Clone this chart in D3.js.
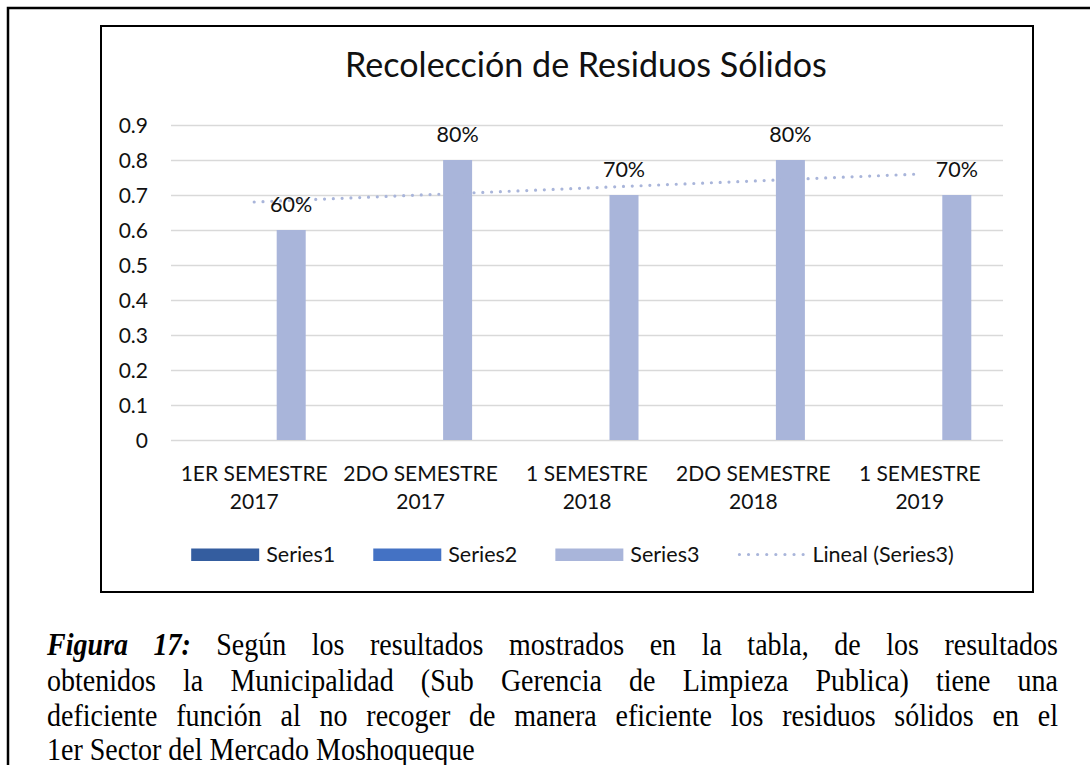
<!DOCTYPE html>
<html><head><meta charset="utf-8">
<script src="https://cdn.jsdelivr.net/npm/d3@7"></script>
<style>body{margin:0;background:#fff}svg{display:block}</style>
</head><body>
<svg id="c" width="1090" height="765"></svg>
<script>
// ---------- data ----------
const categories = ["1ER SEMESTRE 2017", "2DO SEMESTRE 2017", "1 SEMESTRE 2018", "2DO SEMESTRE 2018", "1 SEMESTRE 2019"];
const seriesNames = ["Series1", "Series2", "Series3"];
const series1 = [null, null, null, null, null];
const series2 = [null, null, null, null, null];
const series3 = [0.6, 0.8, 0.7, 0.8, 0.7];
const dataLabels = ["60%", "80%", "70%", "80%", "70%"];
const yTicks = [0, 0.1, 0.2, 0.3, 0.4, 0.5, 0.6, 0.7, 0.8, 0.9];
const yTickLabels = ["0", "0.1", "0.2", "0.3", "0.4", "0.5", "0.6", "0.7", "0.8", "0.9"];
const chartTitle = "Recolección de Residuos Sólidos";
const trendName = "Lineal (Series3)";
const captionLead = "Figura 17:";
const captionLines = [
  "Según los resultados mostrados en la tabla, de los resultados",
  "obtenidos la Municipalidad (Sub Gerencia de Limpieza Publica) tiene una",
  "deficiente función al no recoger de manera eficiente los residuos sólidos en el",
  "1er Sector del Mercado Moshoqueque"
];

// ---------- style ----------
const colors = {Series1: "#345d9f", Series2: "#4472c4", Series3: "#a9b5da"};
const FONT = "Lato, 'Open Sans', sans-serif";
const SERIF = "'Liberation Serif', 'Times New Roman', serif";

const svg = d3.select("#c");
svg.append("rect").attr("width", 1090).attr("height", 765).attr("fill", "#fff");

// outer page border
svg.append("rect").attr("x", 8).attr("y", 8).attr("width", 1200).attr("height", 900)
  .attr("fill", "none").attr("stroke", "#000").attr("stroke-width", 2.5);
// chart border
svg.append("rect").attr("x", 101).attr("y", 26).attr("width", 932).attr("height", 566)
  .attr("fill", "#fff").attr("stroke", "#000").attr("stroke-width", 2);

// ---------- scales ----------
const x = d3.scaleBand().domain(categories).range([171, 1003]).padding(0);
const xs = d3.scaleBand().domain(seriesNames).range([-55.5, 55.5]).paddingInner(0.216).paddingOuter(0.108);
const y = d3.scaleLinear().domain([0, 0.9]).range([440, 125]);

// gridlines
const grid = svg.append("g").attr("transform", "translate(171,0)")
  .call(d3.axisLeft(y).tickValues(yTicks).tickSize(-832).tickFormat(""));
grid.select(".domain").remove();
grid.selectAll("line").attr("stroke", "#d9d9d9").attr("stroke-width", 1.6);

// y axis labels
const yAxis = svg.append("g").attr("transform", "translate(148,0)")
  .call(d3.axisLeft(y).tickValues(yTicks).tickSize(0).tickPadding(0)
    .tickFormat((d, i) => yTickLabels[i]));
yAxis.select(".domain").remove();
yAxis.selectAll("text").attr("font-family", FONT).attr("font-size", 21).attr("fill", "#111")
  .attr("dy", "0.36em");

// x axis labels (two lines)
const xAxis = svg.append("g").attr("transform", "translate(0,440)")
  .call(d3.axisBottom(x).tickSize(0).tickFormat(""));
xAxis.select(".domain").remove();
xAxis.selectAll(".tick").each(function(d) {
  const i = d.lastIndexOf(" ");
  const g = d3.select(this);
  g.append("text").attr("y", 41).attr("text-anchor", "middle").attr("font-family", FONT)
    .attr("font-size", 21).attr("fill", "#111").text(d.slice(0, i));
  g.append("text").attr("y", 69).attr("text-anchor", "middle").attr("font-family", FONT)
    .attr("font-size", 21).attr("fill", "#111").text(d.slice(i + 1));
});

// bars
const allSeries = {Series1: series1, Series2: series2, Series3: series3};
const barData = [];
seriesNames.forEach(s => allSeries[s].forEach((v, i) => { if (v != null) barData.push({s, i, v}); }));
const barCenter = d => x(categories[d.i]) + x.bandwidth() / 2 + xs(d.s) + xs.bandwidth() / 2;
svg.append("g").selectAll("rect").data(barData).join("rect")
  .attr("x", d => barCenter(d) - xs.bandwidth() / 2)
  .attr("y", d => y(d.v))
  .attr("width", xs.bandwidth())
  .attr("height", d => y(0) - y(d.v))
  .attr("fill", d => colors[d.s]);

// linear trendline (least squares on Series3)
const n = series3.length;
const xm = d3.mean(series3, (d, i) => i + 1), ym = d3.mean(series3);
const slope = d3.sum(series3, (d, i) => (i + 1 - xm) * (d - ym)) / d3.sum(series3, (d, i) => (i + 1 - xm) ** 2);
const icpt = ym - slope * xm;
const trendPts = [0, n - 1].map(i => [x(categories[i]) + x.bandwidth() / 2, y(icpt + slope * (i + 1))]);
svg.append("path").attr("d", d3.line()(trendPts)).attr("fill", "none")
  .attr("stroke", colors.Series3).attr("stroke-width", 3.2).attr("stroke-linecap", "round")
  .attr("stroke-dasharray", "0 8.8");

// data labels
svg.append("g").selectAll("text").data(barData.filter(d => d.s === "Series3")).join("text")
  .attr("x", d => barCenter(d)).attr("y", d => y(d.v) - 18)
  .attr("text-anchor", "middle").attr("font-family", FONT).attr("font-size", 21.5).attr("fill", "#111")
  .text(d => dataLabels[d.i]);

// title, fitted to reference width
const t = svg.append("text").attr("x", 586).attr("y", 77).attr("text-anchor", "middle")
  .attr("font-family", FONT).attr("font-size", 30).attr("fill", "#111").text(chartTitle);
const tw = t.node().getComputedTextLength();
t.attr("font-size", 30 * 482 / tw);

// legend
const legendItems = seriesNames.map(s => ({name: s, kind: "rect", color: colors[s]}))
  .concat([{name: trendName, kind: "dots", color: colors.Series3}]);
const lg = svg.append("g");
const widths = legendItems.map(it => {
  const tt = lg.append("text").attr("font-family", FONT).attr("font-size", 21.5).text(it.name);
  const w = tt.node().getComputedTextLength(); tt.remove(); return w;
});
const symW = 68, symGap = 7, itemGap = 38;
const total = d3.sum(widths) + legendItems.length * (symW + symGap) + (legendItems.length - 1) * itemGap;
let cx = 572.5 - total / 2;
legendItems.forEach((it, i) => {
  if (it.kind === "rect") {
    lg.append("rect").attr("x", cx).attr("y", 548.5).attr("width", symW).attr("height", 12.5).attr("fill", it.color);
  } else {
    lg.append("path").attr("d", d3.line()([[cx + 2, 554.5], [cx + 66, 554.5]])).attr("stroke", it.color)
      .attr("stroke-width", 3.2).attr("stroke-linecap", "round").attr("stroke-dasharray", "0 9.1");
  }
  lg.append("text").attr("x", cx + symW + symGap).attr("y", 561.5).attr("font-family", FONT)
    .attr("font-size", 21.5).attr("fill", "#111").text(it.name);
  cx += symW + symGap + widths[i] + itemGap;
});

// caption (justified, glyphs slightly tall as in the reference)
const capL = 47, capR = 1058, capFS = 28, capStretch = 1.12, baselines = [655, 691, 726, 760];
const cap = svg.append("g").attr("font-family", SERIF).attr("font-size", capFS).attr("fill", "#000");
function measure(word, bold) {
  const tt = cap.append("text").text(word);
  if (bold) tt.attr("font-weight", "bold").attr("font-style", "italic");
  const w = tt.node().getComputedTextLength(); tt.remove(); return w;
}
const spaceW = measure("a a") - measure("aa");
captionLines.forEach((line, li) => {
  let words = line.split(" ").map(w => ({w, bold: false}));
  if (li === 0) words = captionLead.split(" ").map(w => ({w, bold: true})).concat(words);
  words.forEach(o => o.len = measure(o.w, o.bold));
  const sum = d3.sum(words, o => o.len);
  const last = li === captionLines.length - 1;
  const gap = last ? spaceW : (capR - capL - sum) / (words.length - 1);
  const row = cap.append("g").attr("transform", `translate(0,${baselines[li]}) scale(1,${capStretch})`);
  let px = capL;
  words.forEach(o => {
    const tt = row.append("text").attr("x", px).attr("y", 0).text(o.w);
    if (o.bold) tt.attr("font-weight", "bold").attr("font-style", "italic");
    px += o.len + gap;
  });
});
</script>
</body></html>
